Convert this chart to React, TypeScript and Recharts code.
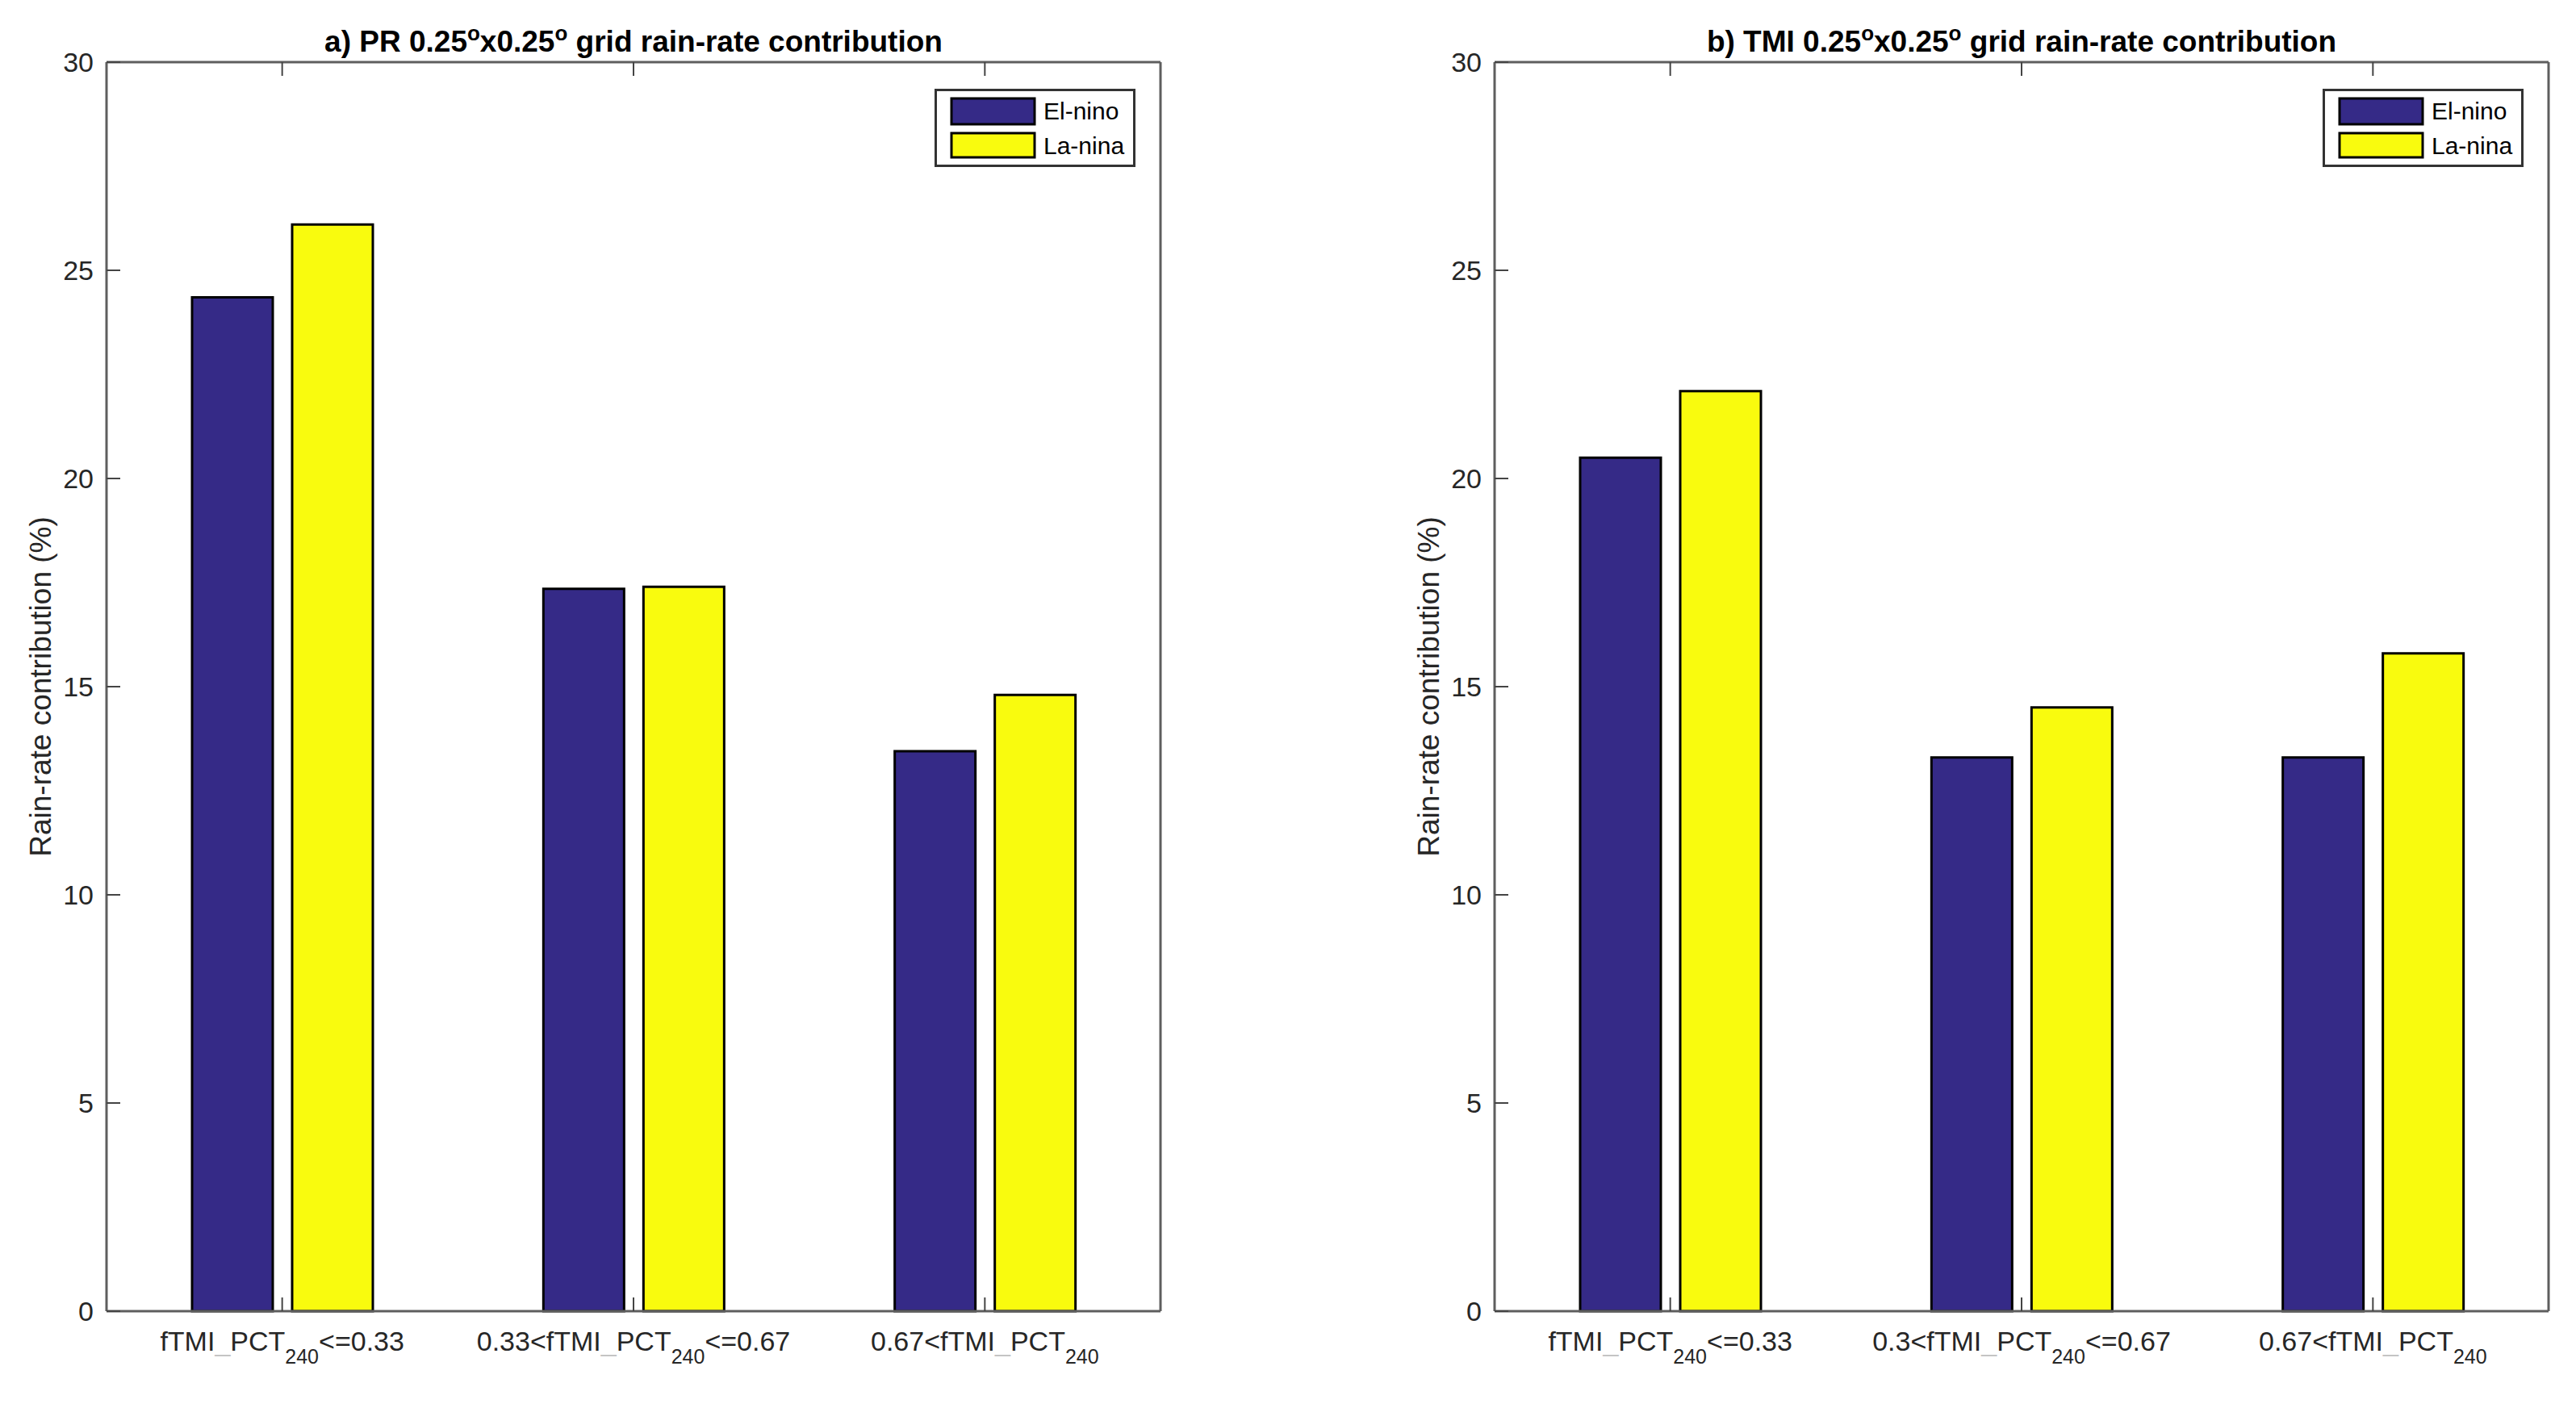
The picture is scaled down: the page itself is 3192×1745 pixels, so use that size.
import React from 'react';
import { BarChart, Bar, XAxis, YAxis, Legend } from 'recharts';

// ---------- data ----------
const seriesNames = ['El-nino', 'La-nina'];
const seriesColors = ['#352A87', '#F9FB0E'];

const categoriesA = ['fTMI_PCT_{240}<=0.33', '0.33<fTMI_PCT_{240}<=0.67', '0.67<fTMI_PCT_{240}'];
const elNinoA = [24.35, 17.35, 13.45];
const laNinaA = [26.1, 17.4, 14.8];

const categoriesB = ['fTMI_PCT_{240}<=0.33', '0.3<fTMI_PCT_{240}<=0.67', '0.67<fTMI_PCT_{240}'];
const elNinoB = [20.5, 13.3, 13.3];
const laNinaB = [22.1, 14.5, 15.8];

const yTicks = [0, 5, 10, 15, 20, 25, 30];
const yDomain = [0, 30];

const titleA = 'a) PR 0.25^ox0.25^o grid rain-rate contribution';
const titleB = 'b) TMI 0.25^ox0.25^o grid rain-rate contribution';
const yLabelText = 'Rain-rate contribution (%)';

// ---------- styles ----------
const FONT = '"Liberation Sans", Arial, Helvetica, sans-serif';
const TXT = '#262626';
const AXIS = '#5e5e5e';

const buildRows = (cats: string[], el: number[], la: number[]) =>
  cats.map((c, i) => ({ cat: c, el: el[i], la: la[i] }));

const renderUnderscored = (s: string, keyBase: string) => {
  const parts = s.split('_');
  const out: any[] = [];
  parts.forEach((p, i) => {
    if (i > 0) out.push(<tspan key={keyBase + 'u' + i} fill="#c4c4c4">_</tspan>);
    out.push(<tspan key={keyBase + 'p' + i}>{p}</tspan>);
  });
  return out;
};

const XTick = (props: any) => {
  const { x, y, payload } = props;
  const v: string = payload.value;
  const m = /^(.*?)_\{(\d+)\}(.*)$/.exec(v);
  const pre = m ? m[1] : v;
  const sub = m ? m[2] : '';
  const post = m ? m[3] : '';
  return (
    <text x={x} y={y + 39} textAnchor="middle" fontSize={34} fill={TXT} fontFamily={FONT}>
      {renderUnderscored(pre, 'a')}
      {sub && <tspan dy={16} fontSize={25}>{sub}</tspan>}
      {post && <tspan dy={-16}>{post}</tspan>}
    </text>
  );
};

const YTick = (props: any) => {
  const { x, y, payload } = props;
  return (
    <text x={x} y={y} textAnchor="end" dominantBaseline="central" fontSize={34} fill={TXT} fontFamily={FONT}>
      {payload.value}
    </text>
  );
};

const EmptyTick = () => <g />;

const renderTitle = (title: string) => (props: any) => {
  const vb = props.viewBox || {};
  const cx = vb.x + vb.width / 2;
  const by = vb.y - 12;
  const segs = title.split('^o');
  const out: any[] = [];
  segs.forEach((s, i) => {
    if (i > 0) {
      out.push(<tspan key={'s' + i} dy={-14} fontSize={26}>o</tspan>);
      out.push(<tspan key={'t' + i} dy={14}>{s}</tspan>);
    } else {
      out.push(<tspan key={'t' + i}>{s}</tspan>);
    }
  });
  return (
    <text x={cx} y={by} textAnchor="middle" fontSize={37} fontWeight="bold" fill="#000" fontFamily={FONT}>
      {out}
    </text>
  );
};

const renderYLabel = (props: any) => {
  const vb = props.viewBox || {};
  const bx = vb.x + vb.width - 69;
  const cy = vb.y + vb.height / 2;
  return (
    <text
      x={bx}
      y={cy}
      transform={`rotate(-90, ${bx}, ${cy})`}
      textAnchor="middle"
      fontSize={37}
      fill={TXT}
      fontFamily={FONT}
    >
      {yLabelText}
    </text>
  );
};

const LegendBox = (props: any) => {
  const payload = props.payload || [];
  const rows = [
    { y: 12, h: 32, ty: 38 },
    { y: 55, h: 30, ty: 81 },
  ];
  return (
    <svg width={249} height={97} style={{ display: 'block' }}>
      <rect x={1.5} y={1.5} width={246} height={94} fill="#fff" stroke="#333" strokeWidth={3} />
      {payload.map((p: any, i: number) => (
        <g key={i}>
          <rect x={21} y={rows[i].y} width={103} height={rows[i].h} fill={p.color} stroke="#000" strokeWidth={3} />
          <text x={135} y={rows[i].ty} fontSize={30} fill="#000" fontFamily={FONT}>
            {p.value}
          </text>
        </g>
      ))}
    </svg>
  );
};

type PanelProps = {
  cats: string[];
  el: number[];
  la: number[];
  title: string;
  yAxisWidth: number;
  marginRight: number;
  legendLeft: number;
};

const Panel = ({ cats, el, la, title, yAxisWidth, marginRight, legendLeft }: PanelProps) => {
  const data = buildRows(cats, el, la);
  return (
    <BarChart
      width={1596}
      height={1745}
      data={data}
      margin={{ top: 76, right: marginRight, bottom: 0, left: 0 }}
      barGap={24}
    >
      <XAxis
        dataKey="cat"
        xAxisId={0}
        orientation="bottom"
        height={120}
        interval={0}
        tickSize={-17}
        tickMargin={27}
        tick={XTick}
        axisLine={{ stroke: AXIS, strokeWidth: 3 }}
        tickLine={{ stroke: '#444', strokeWidth: 2 }}
      />
      <XAxis
        dataKey="cat"
        xAxisId="top"
        orientation="top"
        height={1}
        interval={0}
        tickSize={-17}
        tick={EmptyTick}
        axisLine={{ stroke: AXIS, strokeWidth: 3 }}
        tickLine={{ stroke: '#444', strokeWidth: 2 }}
        label={{ content: renderTitle(title) }}
      />
      <YAxis
        yAxisId={0}
        orientation="left"
        width={yAxisWidth}
        type="number"
        domain={yDomain}
        ticks={yTicks}
        interval={0}
        tickSize={-17}
        tickMargin={33}
        tick={YTick}
        axisLine={{ stroke: AXIS, strokeWidth: 3 }}
        tickLine={{ stroke: '#444', strokeWidth: 2 }}
        label={{ content: renderYLabel }}
      />
      <YAxis
        yAxisId="right"
        orientation="right"
        width={1}
        type="number"
        domain={yDomain}
        ticks={yTicks}
        interval={0}
        tickSize={-17}
        tick={EmptyTick}
        axisLine={{ stroke: AXIS, strokeWidth: 3 }}
        tickLine={{ stroke: '#444', strokeWidth: 2 }}
      />
      <Legend
        layout="horizontal"
        verticalAlign="middle"
        content={LegendBox}
        wrapperStyle={{ left: legendLeft, top: 110, width: 249, height: 97 }}
      />
      <Bar
        dataKey="el"
        name={seriesNames[0]}
        fill={seriesColors[0]}
        stroke="#000"
        strokeWidth={3}
        barSize={100}
        isAnimationActive={false}
      />
      <Bar
        dataKey="la"
        name={seriesNames[1]}
        fill={seriesColors[1]}
        stroke="#000"
        strokeWidth={3}
        barSize={100}
        isAnimationActive={false}
      />
    </BarChart>
  );
};

export default function App() {
  return (
    <div
      style={{
        position: 'absolute',
        left: 0,
        top: 0,
        width: 3192,
        height: 1745,
        background: '#fff',
        fontFamily: FONT,
      }}
    >
      <div style={{ position: 'absolute', left: 0, top: 0 }}>
        <Panel
          cats={categoriesA}
          el={elNinoA}
          la={laNinaA}
          title={titleA}
          yAxisWidth={132}
          marginRight={157}
          legendLeft={1158}
        />
      </div>
      <div style={{ position: 'absolute', left: 1596, top: 0 }}>
        <Panel
          cats={categoriesB}
          el={elNinoB}
          la={laNinaB}
          title={titleB}
          yAxisWidth={256}
          marginRight={33}
          legendLeft={1282}
        />
      </div>
    </div>
  );
}
